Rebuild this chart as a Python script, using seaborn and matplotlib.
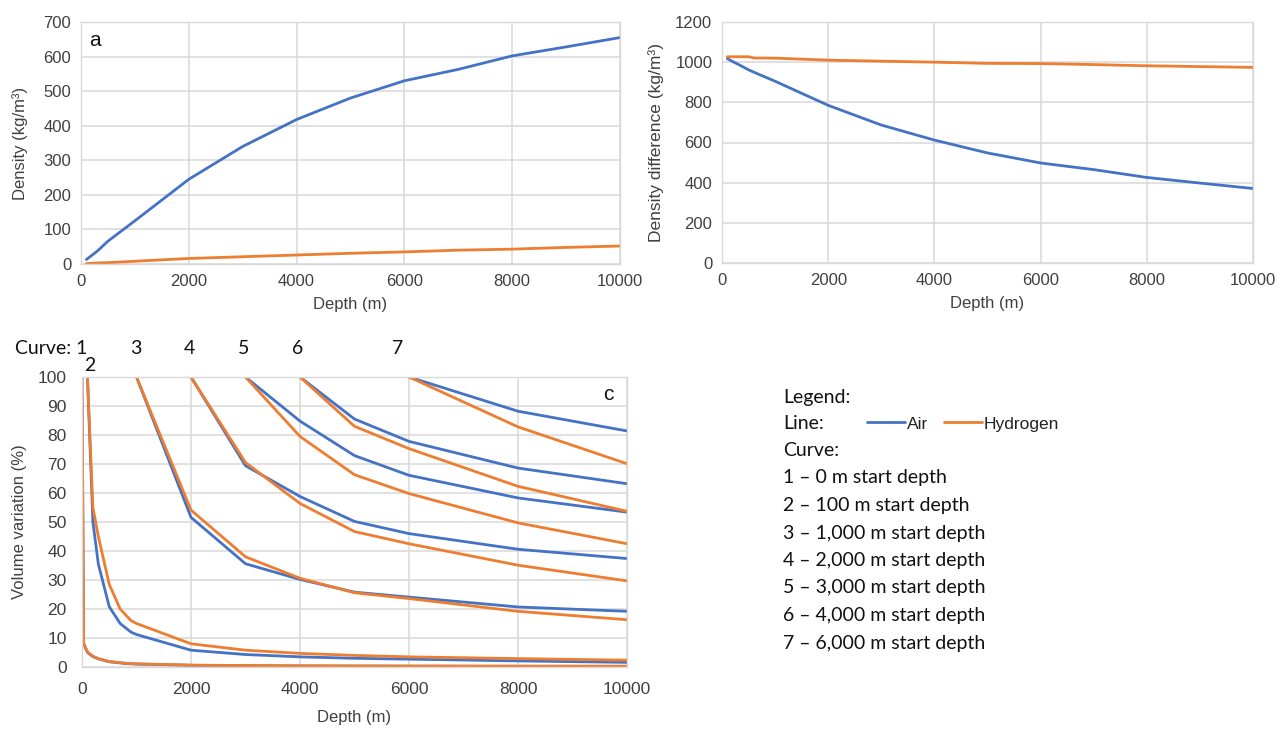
import numpy as np
import pandas as pd
import matplotlib
matplotlib.use("Agg")
import matplotlib.pyplot as plt
from matplotlib.lines import Line2D
from matplotlib.transforms import blended_transform_factory
import seaborn as sns

# ---------------- data ----------------
# Panel a: density vs depth
a_depth = [100, 200, 300, 500, 1000, 2000, 3000, 4000, 5000, 6000, 7000, 8000, 9000, 10000]
a_air = [13, 25, 37, 66, 125, 245, 340, 418, 480, 530, 563, 602, 628, 655]
a_h2 = [1, 2, 3, 4, 8, 16, 21, 26, 31, 35, 40, 43, 48, 52]

# Panel b: density difference vs depth
b_depth = [100, 200, 300, 500, 600, 1000, 2000, 3000, 4000, 5000, 6000, 7000, 8000, 9000, 10000]
b_air = [1018, 1003, 990, 962, 950, 905, 785, 687, 612, 548, 498, 465, 426, 398, 371]
b_h2 = [1027, 1027, 1027, 1027, 1021, 1020, 1010, 1005, 1000, 994, 993, 988, 982, 978, 974]

# Panel c: volume variation (%) for 7 start depths
c1_depth = [0, 30, 100, 200, 300, 500, 800, 1000, 2000, 3000, 4000, 5000, 6000, 8000, 10000]
c1_air = [100, 8.0, 5.0, 3.6, 2.8, 1.8, 1.2, 1.0, 0.6, 0.45, 0.35, 0.3, 0.27, 0.22, 0.2]
c1_h2 = [100, 8.2, 5.2, 3.7, 2.9, 1.9, 1.3, 1.1, 0.65, 0.5, 0.42, 0.38, 0.35, 0.32, 0.3]

c2_depth = [100, 200, 300, 500, 700, 900, 1000, 2000, 3000, 4000, 5000, 6000, 8000, 10000]
c2_air = [100, 50, 35.5, 20.8, 15.0, 12.0, 11.2, 5.8, 4.3, 3.5, 3.0, 2.7, 2.1, 1.6]
c2_h2 = [100, 55, 45, 28.5, 20.0, 16.0, 15.0, 8.0, 5.8, 4.7, 4.0, 3.5, 2.9, 2.35]

c3_depth = [1000, 2000, 3000, 4000, 5000, 6000, 8000, 10000]
c3_air = [100, 51.6, 35.6, 30.2, 25.8, 24.1, 20.7, 19.2]
c3_h2 = [100, 54.1, 38.0, 30.6, 25.6, 23.6, 19.2, 16.3]

c4_depth = [2000, 3000, 4000, 5000, 6000, 8000, 10000]
c4_air = [100, 69.4, 58.8, 50.2, 46.0, 40.6, 37.4]
c4_h2 = [100, 70.5, 56.4, 46.7, 42.5, 35.1, 29.7]

c5_depth = [3000, 4000, 5000, 6000, 8000, 10000]
c5_air = [100, 84.8, 72.9, 66.1, 58.3, 53.4]
c5_h2 = [100, 79.5, 66.3, 59.8, 49.7, 42.5]

c6_depth = [4000, 5000, 6000, 8000, 10000]
c6_air = [100, 85.5, 77.8, 68.6, 63.2]
c6_h2 = [100, 83.0, 75.3, 62.3, 53.7]

c7_depth = [6000, 8000, 10000]
c7_air = [100, 88.2, 81.4]
c7_h2 = [100, 82.8, 70.1]

curve_ids = ["1", "2", "3", "4", "5", "6", "7"]
curve_starts = ["0", "100", "1,000", "2,000", "3,000", "4,000", "6,000"]
gas_names = ["Air", "Hydrogen"]

x_ticks = [0, 2000, 4000, 6000, 8000, 10000]

# ---------------- style ----------------
BLUE = "#4472C4"
ORANGE = "#ED7D31"
GRID = "#D9D9D9"
TXT = "#404040"

sns.set_theme(style="whitegrid")
plt.rcParams["font.family"] = ["Liberation Sans", "DejaVu Sans"]
plt.rcParams.update({
    "axes.edgecolor": GRID,
    "axes.linewidth": 1.0,
    "grid.color": GRID,
    "grid.linewidth": 1.1,
    "xtick.color": TXT,
    "ytick.color": TXT,
    "axes.labelcolor": TXT,
    "xtick.labelsize": 12,
    "ytick.labelsize": 12,
    "axes.labelsize": 12,
})
CAL = ["Lato", "DejaVu Sans"]

fig = plt.figure(figsize=(12.88, 7.30), dpi=100)
W, H = 1288, 730


def add_axes_px(left, top, right, bottom):
    return fig.add_axes([left / W, 1 - bottom / H, (right - left) / W, (bottom - top) / H])


ax_a = add_axes_px(81, 22, 620, 264)
ax_b = add_axes_px(722, 22, 1253, 263)
ax_c = add_axes_px(82, 377, 627, 667)

palette = {"Air": BLUE, "Hydrogen": ORANGE}
LW = 2.0

# panel a
df_a = pd.DataFrame({
    "Depth": a_depth * 2,
    "Value": a_air + a_h2,
    "Gas": [gas_names[0]] * len(a_depth) + [gas_names[1]] * len(a_depth),
})
sns.lineplot(data=df_a, x="Depth", y="Value", hue="Gas", palette=palette,
             estimator=None, sort=False, lw=LW, legend=False, ax=ax_a)
ax_a.set_xlim(0, 10000)
ax_a.set_ylim(0, 700)
ax_a.set_yticks(range(0, 701, 100))
ax_a.set_ylabel("Density (kg/m³)", labelpad=11)
ax_a.text(0.015, 0.925, "a", transform=ax_a.transAxes, fontsize=15,
          color="#111111", va="center", ha="left")

# panel b
df_b = pd.DataFrame({
    "Depth": b_depth * 2,
    "Value": b_air + b_h2,
    "Gas": [gas_names[0]] * len(b_depth) + [gas_names[1]] * len(b_depth),
})
sns.lineplot(data=df_b, x="Depth", y="Value", hue="Gas", palette=palette,
             estimator=None, sort=False, lw=LW, legend=False, ax=ax_b)
ax_b.set_xlim(0, 10000)
ax_b.set_ylim(0, 1200)
ax_b.set_yticks(range(0, 1201, 200))
ax_b.set_ylabel("Density difference (kg/m³)", labelpad=8, fontsize=12.5)

# panel c
c_sets = [
    (c1_depth, c1_air, c1_h2), (c2_depth, c2_air, c2_h2), (c3_depth, c3_air, c3_h2),
    (c4_depth, c4_air, c4_h2), (c5_depth, c5_air, c5_h2), (c6_depth, c6_air, c6_h2),
    (c7_depth, c7_air, c7_h2),
]
rows = []
for cid, (d, air, h2) in zip(curve_ids, c_sets):
    for x, y in zip(d, air):
        rows.append((x, y, "Air", cid))
    for x, y in zip(d, h2):
        rows.append((x, y, "Hydrogen", cid))
df_c = pd.DataFrame(rows, columns=["Depth", "Value", "Gas", "Curve"])
sns.lineplot(data=df_c, x="Depth", y="Value", hue="Gas", units="Curve", palette=palette,
             estimator=None, sort=False, lw=LW, legend=False, ax=ax_c)
ax_c.set_xlim(0, 10000)
ax_c.set_ylim(0, 100)
ax_c.set_yticks(range(0, 101, 10))
ax_c.text(0.975, 0.94, "c", transform=ax_c.transAxes, fontsize=15,
          color="#111111", va="center", ha="right")

for ax in (ax_a, ax_b, ax_c):
    ax.set_xticks(x_ticks)
    ax.tick_params(length=0, pad=7)
    ax.grid(True, which="major")
    ax.set_axisbelow(True)
    for s in ax.spines.values():
        s.set_visible(True)
        s.set_color(GRID)
ax_a.set_xlabel("Depth (m)", labelpad=6)
ax_b.set_xlabel("Depth (m)", labelpad=6)
ax_c.tick_params(axis="both", pad=11, labelsize=12.5)
ax_c.set_xlabel("Depth (m)", labelpad=9)
ax_c.set_ylabel("Volume variation (%)", labelpad=8)

# curve labels above panel c
tr = blended_transform_factory(ax_c.transData, ax_c.transAxes)
ax_c.text(90, 1.10, "Curve: " + curve_ids[0], transform=tr, ha="right", va="center",
          fontsize=14, family=CAL, color="#111111")
ax_c.text(150, 1.04, curve_ids[1], transform=tr, ha="center", va="center",
          fontsize=14, family=CAL, color="#111111")
label_x = [980, 1970, 2960, 3950, 5800]
for cid, lx in zip(curve_ids[2:], label_x):
    ax_c.text(lx, 1.10, cid, transform=tr, ha="center", va="center",
              fontsize=14, family=CAL, color="#111111")

# legend block
def fig_text(xp, yp, s, **kw):
    fig.text(xp / W, 1 - yp / H, s, va="center", ha="left", fontsize=14,
             family=CAL, color="#111111", **kw)

fig_text(783, 397, "Legend:")
fig_text(783, 424, "Line:")
fig_text(783, 451, "Curve:")
for i, (cid, st) in enumerate(zip(curve_ids, curve_starts)):
    fig_text(783, 478 + i * 27.5, f"{cid} \u2013 {st} m start depth")

handles = [Line2D([], [], color=BLUE, lw=LW), Line2D([], [], color=ORANGE, lw=LW)]
fig.legend(handles, gas_names, loc="center left", bbox_to_anchor=(867 / W, 1 - 424 / H),
           ncol=2, frameon=False, handlelength=2.2, handletextpad=0.1, columnspacing=0.9,
           fontsize=12.5, labelcolor="#222222", borderaxespad=0, borderpad=0)

fig.savefig("out.png", dpi=100, facecolor="white")
